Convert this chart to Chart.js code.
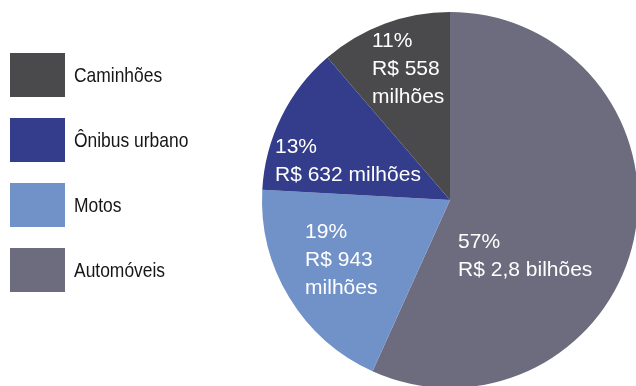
<!DOCTYPE html>
<html lang="pt-BR">
<head>
<meta charset="utf-8">
<script src="https://cdn.jsdelivr.net/npm/chart.js"></script>
<style>
    html, body {
        margin: 0;
        padding: 0;
        width: 636px;
        height: 386px;
        overflow: hidden;
        background: #ffffff;
        font-family: "Liberation Sans", Arial, sans-serif;
    }
    #chart-wrap {
        position: absolute;
        left: 0;
        top: 0;
        width: 640px;
        height: 390px;
    }
    #legend {
        position: absolute;
        left: 10px;
        top: 53px;
        margin: 0;
        padding: 0;
        list-style: none;
    }
    #legend li {
        display: flex;
        align-items: center;
        height: 44px;
        margin-bottom: 21px;
        font-size: 21px;
        color: #161616;
    }
    #legend .swatch {
        width: 55px;
        height: 44px;
        margin-right: 9px;
    }
    /* condensed look for the legend names */
    #legend .name {
        display: inline-block;
        transform: scaleX(0.83);
        transform-origin: left center;
        white-space: nowrap;
    }
</style>
</head>
<body>
<div id="chart-wrap">
    <canvas id="frota-chart" width="640" height="390"></canvas>
</div>
<ul id="legend"></ul>

<script>
// ===== DATA =====
// Slices in drawing order (clockwise from 12 o'clock), values in R$ millions
const categories = ['Automóveis', 'Motos', 'Ônibus urbano', 'Caminhões'];
const valuesMillions = [2800, 943, 632, 558];
const sliceColors = ['#6c6c7e', '#7192c8', '#333d8c', '#4a4a4c'];

// Label layout: left edge / first line, as a fraction of the radius from the pie centre
const labelAnchors = [
    { x: 0.043, y: 0.226 },
    { x: -0.771, y: 0.170 },
    { x: -0.931, y: -0.279 },
    { x: -0.415, y: -0.846 }
];
// Whether the money line is split before the unit word
const labelWrap = [false, true, false, true];

const total = valuesMillions.reduce((s, v) => s + v, 0);

function formatMoney(v) {
    if (v >= 1000) {
        return { amount: 'R$ ' + (v / 1000).toFixed(1).replace('.', ','), unit: 'bilhões' };
    }
    return { amount: 'R$ ' + v, unit: 'milhões' };
}

function labelLines(i) {
    const pct = Math.round(valuesMillions[i] / total * 100) + '%';
    const m = formatMoney(valuesMillions[i]);
    if (labelWrap[i]) return [pct, m.amount, m.unit];
    return [pct, m.amount + ' ' + m.unit];
}

// ===== SLICE LABELS PLUGIN =====
const sliceLabels = {
    id: 'sliceLabels',
    afterDatasetsDraw(chart) {
        const ctx = chart.ctx;
        const arcs = chart.getDatasetMeta(0).data;
        ctx.save();
        ctx.fillStyle = '#ffffff';
        ctx.font = '21px "Liberation Sans", Arial, sans-serif';
        ctx.textAlign = 'left';
        ctx.textBaseline = 'middle';
        arcs.forEach((arc, i) => {
            const { x, y, outerRadius } = arc.getProps(['x', 'y', 'outerRadius'], true);
            const left = x + labelAnchors[i].x * outerRadius;
            const top = y + labelAnchors[i].y * outerRadius;
            labelLines(i).forEach((line, k) => {
                ctx.fillText(line, left, top + k * 28);
            });
        });
        ctx.restore();
    }
};

// ===== LEGEND =====
function buildLegend() {
    const list = document.getElementById('legend');
    for (let i = categories.length - 1; i >= 0; i--) {
        const li = document.createElement('li');
        const sw = document.createElement('span');
        sw.className = 'swatch';
        sw.style.background = sliceColors[i];
        const name = document.createElement('span');
        name.className = 'name';
        name.textContent = categories[i];
        li.appendChild(sw);
        li.appendChild(name);
        list.appendChild(li);
    }
}

// ===== CHART =====
const ctx = document.getElementById('frota-chart').getContext('2d');
new Chart(ctx, {
    type: 'pie',
    data: {
        labels: categories,
        datasets: [{
            data: valuesMillions,
            backgroundColor: sliceColors,
            borderWidth: 0,
            hoverOffset: 0
        }]
    },
    options: {
        responsive: false,
        animation: false,
        layout: {
            padding: { left: 262, top: 12, right: 2, bottom: 2 }
        },
        plugins: {
            legend: { display: false },
            tooltip: { enabled: false }
        }
    },
    plugins: [sliceLabels]
});

buildLegend();
</script>
</body>
</html>
